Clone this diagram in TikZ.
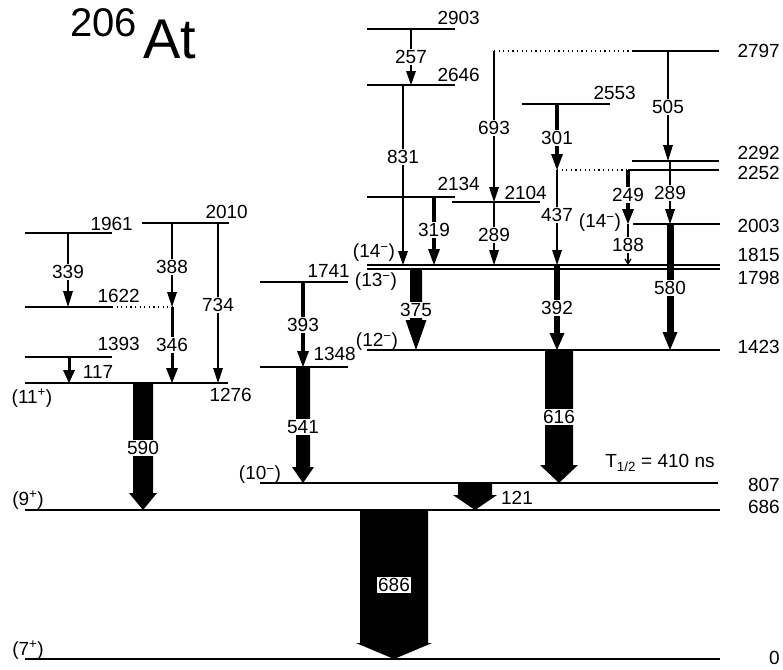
\documentclass[tikz,border=0pt]{standalone}
\usepackage{fontspec}
\setmainfont{Liberation Sans}
\usetikzlibrary{arrows.meta,calc}
\tikzset{
  lvl/.style={line width=1.4pt},
  dots/.style={line width=1.2pt,dash pattern=on 1.2pt off 3.4pt},
  glab/.style={fill=white,inner sep=1.2pt},
  num/.style={inner sep=0pt}
}
% block arrow: column, from level, to level, half shaft, half head, head length
\newcommand\blockgamma[6]{%
  \fill ($(#1|-#2)+(-#4,0)$) -- ($(#1|-#3)+(-#4,-#6)$) -- ($(#1|-#3)+(-#5,-#6)$)
    -- (#1|-#3) -- ($(#1|-#3)+(#5,-#6)$) -- ($(#1|-#3)+(#4,-#6)$) -- ($(#1|-#2)+(#4,0)$) -- cycle;}

\begin{document}
\begin{tikzpicture}[x=1pt,y=-1pt,font=\fontsize{19}{21}\selectfont]
  \useasboundingbox (0,0) rectangle (783,669);
  % levels
  \foreach \e/\xa/\xb/\y in {0/25/720/659,686/25/720/510,807/260/718/483,1276/25/228/383,1393/25/112/357,
      1622/25/112/307,1961/25/112/233,2010/142/229/223,1348/260/348/367,1741/260/348/282,1423/367/720/350,
      1798/367/720/269,1815/367/720/265,2104/452/540/202,2134/367/455/197,2646/367/455/85,2903/367/455/29,
      2003/633/720/224,2252/628/719/170,2292/632/719/161,2553/522/610/104,2797/632/719/51}
    {\draw[lvl] (\xa,\y) coordinate (L\e) -- (\xb,\y) coordinate (R\e);}
  % energies
  \foreach \e/\y in {2797/51,2292/153,2252/173,2003/226,1815/255,1798/278,1423/347,807/485,686/507,0/658}
    \node[num,anchor=east] (e\e) at (780,\y) {\e};
  \foreach \e/\x/\y in {2903/480/18,2646/480/75,2134/480/184,2104/547/193,2553/636/93,1961/133/224,
      2010/248/212,1622/140/296,1393/140/344,1276/252/395,1741/350/271,1348/356/354}
    \node[num,anchor=east] (e\e) at (\x,\y) {\e};
  % spins
  \node (s11) at (32,398) {(11\textsuperscript{+})};
  \node (s9) at (28,500) {(9\textsuperscript{+})};
  \node (s7) at (28,650) {(7\textsuperscript{+})};
  \node (s10) at (260,475) {(10\textsuperscript{−})};
  \node (s13) at (376,282) {(13\textsuperscript{−})};
  \node (s12) at (377,342) {(12\textsuperscript{−})};
  \node (s14a) at (374,253) {(14\textsuperscript{−})};
  \node (s14b) at (600,223) {(14\textsuperscript{−})};
  % gamma lines
  \foreach \n/\x/\a/\b/\w/\tw/\tl/\lx/\ly/\t in {339/68/1961/1622/1.4/10/16/68/272/339,
      117/69/1393/1276/3/12/13/98/372/117,388/172/2010/1622/1.4/10/15/172/267/388,
      346/172/1622/1276/3/12/15/172/345/346,734/218/2010/1276/1.4/10/15/218/305/734,
      393/303/1741/1348/3.5/12/16/303/325/393,257/411/2903/2646/1.4/10/14/411/57/257,
      831/403/2646/1815/1.4/10/14/403/157/831,319/434/2134/1815/4/12/16/434/230/319,
      693/494/2797/2104/1.4/10/15/494/128/693,289a/494/2104/1815/1.4/10/15/494/235/289,
      301/557/2553/2252/4/12/16/557/138/301,437/557/2252/1815/1.4/10/15/557/215/437,
      392/557/1815/1423/6/15/17/557/308/392,505/668/2797/2292/1.4/10/16/668/107/505,
      249/628/2252/2003/4/12/15/628/195/249,289b/670/2292/2003/1.4/10/15/670/193/289,
      580/670/2003/1423/7/15/18/670/288/580}{
    \coordinate (g\n) at (\x,0);
    \draw[line width=\w pt,-{Triangle[width=\tw pt,length=\tl pt,line width=0pt]}] (g\n|-L\a) -- (g\n|-L\b);
    \node[glab] (t\n) at (\lx,\ly) {\t};
  }
  \coordinate (g188) at (628,0);
  \draw[line width=1.2pt,-{Straight Barb[width=6pt,length=5pt]}] (g188|-L2003) -- (g188|-L1815);
  \node[glab] (t188) at (628,245) {188};
  % dotted parts
  \draw[dots] (R1622) -- (g388|-L1622);
  \draw[dots] (g693|-L2797) -- (L2797);
  \draw[dots] (g301|-L2252) -- (L2252);
  % strong transitions
  \foreach \n/\x/\a/\b/\s/\h/\hl/\lx/\ly in {590/143/1276/686/10/14/17/143/448,541/303/1348/807/7/11/16/303/427,
      375/416/1798/1423/6/10.5/30/416/310,616/559/1423/807/14/19/18/559/417,
      121/475/807/686/17/22/15/517/498,686/394/686/0/34/38/16/394/585}{
    \coordinate (b\n) at (\x,0);
    \blockgamma{b\n}{L\a}{L\b}{\s}{\h}{\hl}
    \node[glab] (t\n) at (\lx,\ly) {\n};
  }
  \node (half) at (660,463) {T\textsubscript{1/2} = 410 ns};
  % nucleus
  \node[num,anchor=base west,font=\fontsize{40}{44}\selectfont] (mass) at (70,37) {206};
  \node[num,anchor=base west,font=\fontsize{56}{60}\selectfont] (nuc) at (143,58) {At};
\end{tikzpicture}
\end{document}
